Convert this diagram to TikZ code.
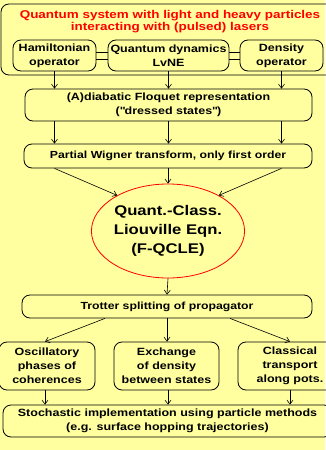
\documentclass[tikz,border=0pt]{standalone}
\usepackage{fontspec}
\setmainfont[FakeStretch=1.19]{Liberation Sans}
\usepackage{xcolor}
\usetikzlibrary{arrows.meta,shapes.geometric}
\definecolor{bgyellow}{RGB}{255,255,160}

\begin{document}
\begin{tikzpicture}[x=1pt,y=-1pt]%
  \tikzstyle{boxn}=[rectangle,rounded corners=8pt,draw,line width=0.8pt,align=center,inner sep=0,
    font=\bfseries\fontsize{10.5}{14}\selectfont]
  \tikzstyle{elln}=[ellipse,draw=red,line width=0.8pt,align=center,inner sep=0,
    font=\bfseries\fontsize{14}{19}\selectfont]
  \tikzstyle{arr}=[line width=0.6pt,-{Straight Barb[length=4pt,width=6pt]}]
  \fill[bgyellow] (0,0) rectangle (325,450);
  \useasboundingbox (0,0) rectangle (325,450);
  % top group
  \node(sys)[boxn,minimum width=336,minimum height=71] at (169,39.5) {};
  \node(title)[text=red,align=center,font=\bfseries\fontsize{11.3}{12}\selectfont] at (170,22)
    {Quantum system with light and heavy particles\\interacting with (pulsed) lasers};
  \node(ham)[boxn,minimum width=83,minimum height=31] at (54.5,55.5) {Hamiltonian\\operator};
  \node(qd)[boxn,minimum width=121,minimum height=31] at (168.5,55.5) {Quantum dynamics\\LvNE};
  \node(dens)[boxn,minimum width=83,minimum height=31] at (281.5,55.5) {Density\\operator};
  \draw[line width=0.8pt] ([yshift=3.5pt]ham.east) -- ([yshift=3.5pt]qd.west);
  \draw[line width=0.8pt] ([yshift=-3.5pt]ham.east) -- ([yshift=-3.5pt]qd.west);
  \draw[line width=0.8pt] ([yshift=3.5pt]qd.east) -- ([yshift=3.5pt]dens.west);
  \draw[line width=0.8pt] ([yshift=-3.5pt]qd.east) -- ([yshift=-3.5pt]dens.west);
  % middle chain
  \node(floq)[boxn,minimum width=287,minimum height=32] at (168.5,105)
    {(A)diabatic Floquet representation\\(\textquotedbl dressed states\textquotedbl)};
  \node(wig)[boxn,minimum width=288,minimum height=24,font=\bfseries\fontsize{10.3}{12}\selectfont] at (168,156)
    {Partial Wigner transform, only first order};
  \node(liou)[elln,minimum width=124,minimum height=94] at (168,231)
    {Quant.-Class.\\Liouville Eqn.\\(F-QCLE)};
  \node(trot)[boxn,minimum width=290,minimum height=23,font=\bfseries\fontsize{10.3}{12}\selectfont] at (167,306.5)
    {Trotter splitting of propagator};
  % lower group
  \node(osc)[boxn,minimum width=96,minimum height=48] at (47,366) {Oscillatory\\phases of\\coherences};
  \node(exch)[boxn,minimum width=105,minimum height=48] at (166.5,366) {Exchange\\of density\\between states};
  \node(clas)[boxn,minimum width=104,minimum height=48] at (290,366) {Classical\\transport\\along pots.};
  \node(stoch)[boxn,minimum width=329,minimum height=32] at (167.5,421)
    {Stochastic implementation using particle methods\\(e.g. surface hopping trajectories)};
  % connectors
  \draw[arr] (ham.south) -- (ham.south |- floq.north);
  \draw[arr] (qd.south) -- (qd.south |- floq.north);
  \draw[arr] (dens.south) -- (dens.south |- floq.north);
  \draw[arr] (ham.south |- floq.south) -- (ham.south |- wig.north);
  \draw[arr] (qd.south |- floq.south) -- (qd.south |- wig.north);
  \draw[arr] (dens.south |- floq.south) -- (dens.south |- wig.north);
  \draw[arr] (ham.south |- wig.south) -- (liou.145);
  \draw[arr] (wig.south) -- (liou.north);
  \draw[arr] (dens.south |- wig.south) -- (liou.35);
  \draw[arr] (liou.south) -- (trot.north);
  \draw[arr] ([xshift=-62pt]trot.south) -- ([xshift=-2pt]osc.north);
  \draw[arr] (trot.south) -- (trot.south |- exch.north);
  \draw[arr] ([xshift=63pt]trot.south) -- (clas.north);
  \draw[arr] ([xshift=-2pt]osc.south) -- ([xshift=-2pt]osc.south |- stoch.north);
  \draw[arr] ([xshift=1.5pt]exch.south) -- ([xshift=1.5pt]exch.south |- stoch.north);
  \draw[arr] (clas.south) -- (clas.south |- stoch.north);
\end{tikzpicture}
\end{document}
